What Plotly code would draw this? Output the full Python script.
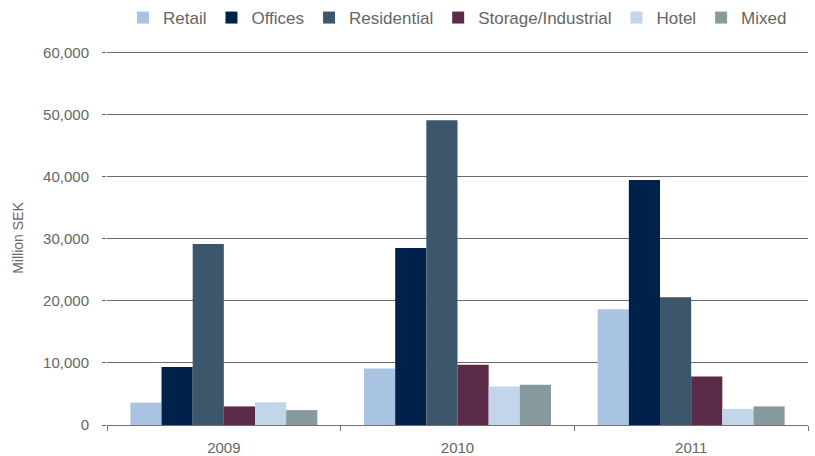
import plotly.graph_objects as go

years = ["2009", "2010", "2011"]
series_names = ["Retail", "Offices", "Residential", "Storage/Industrial", "Hotel", "Mixed"]
retail = [3600, 9100, 18650]
offices = [9350, 28550, 39500]
residential = [29200, 49150, 20600]
storage = [3000, 9700, 7800]
hotel = [3650, 6200, 2600]
mixed = [2400, 6500, 3000]
colors = ["#A9C4E2", "#00224A", "#3C566B", "#5A2A48", "#C3D5EA", "#869A9E"]
y_ticks = [0, 10000, 20000, 30000, 40000, 50000, 60000]
y_tick_labels = ["0", "10,000", "20,000", "30,000", "40,000", "50,000", "60,000"]

values = [retail, offices, residential, storage, hotel, mixed]

fig = go.Figure()
for name, vals, col in zip(series_names, values, colors):
    fig.add_trace(go.Bar(x=years, y=vals, name=name, marker=dict(color=col, line=dict(width=0))))

font_fam = "Liberation Sans, Arial, sans-serif"
grey = "#666666"

fig.update_layout(
    width=815, height=456,
    margin=dict(l=107, r=7, t=51, b=31, autoexpand=False),
    paper_bgcolor="white", plot_bgcolor="white",
    barmode="group", bargap=0.2, bargroupgap=0,
    font=dict(family=font_fam, size=15, color=grey),
    showlegend=True,
    legend=dict(orientation="h", x=0.5, xanchor="center", y=1.0, yanchor="top",
                yref="container", font=dict(size=17, color=grey),
                itemwidth=30, tracegroupgap=0, traceorder="normal"),
)

fig.update_xaxes(
    automargin=False,
    showline=True, linecolor="#707070", linewidth=1,
    ticks="outside", tickson="boundaries", ticklen=5, tickcolor="#707070",
    ticklabelstandoff=9,
    tickfont=dict(size=15, color=grey), showgrid=False,
)
fig.update_yaxes(
    automargin=False,
    range=[0, 60300], tickvals=y_ticks, ticktext=y_tick_labels,
    showgrid=True, gridcolor="#6a6a6a", gridwidth=1,
    ticks="outside", ticklen=4, tickcolor="#6a6a6a", ticklabelstandoff=10,
    showline=False, zeroline=False,
    tickfont=dict(size=15, color=grey),
    title=dict(text="Million SEK", font=dict(size=14, color=grey), standoff=16),
)

fig.write_html("out.html")
